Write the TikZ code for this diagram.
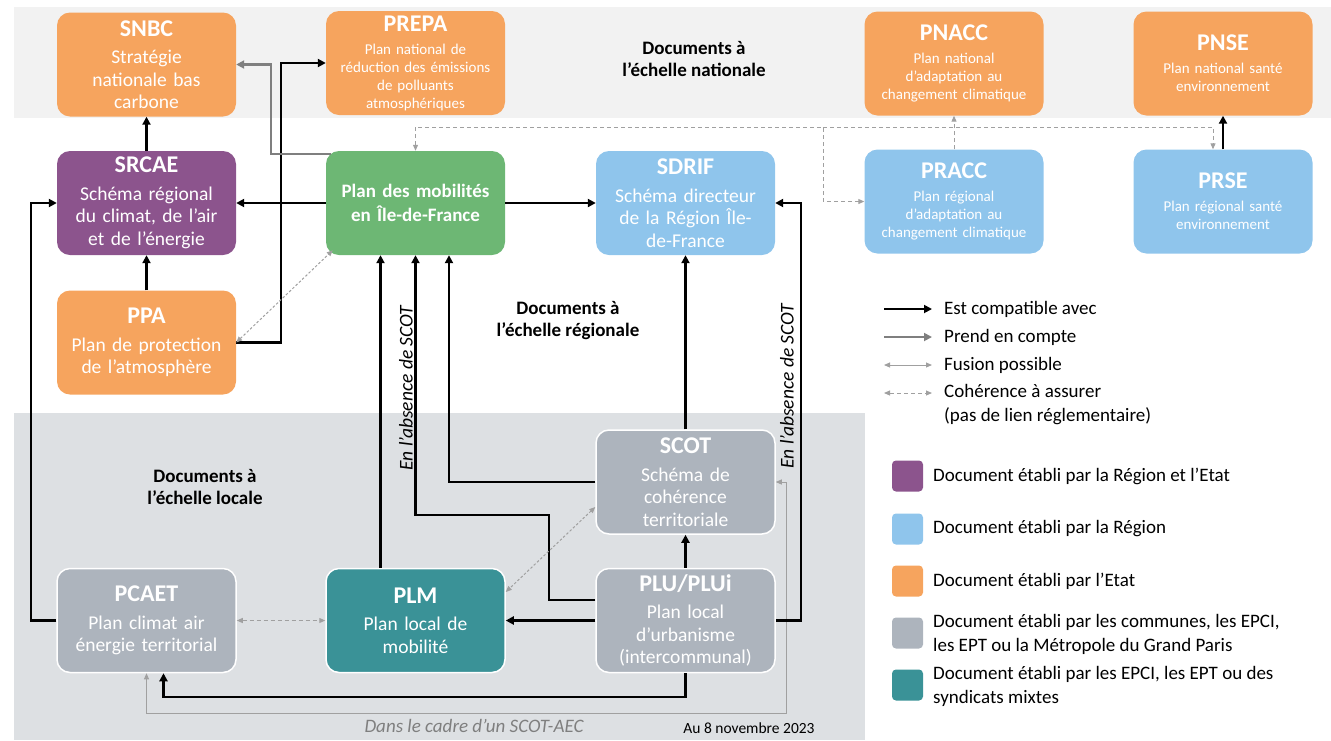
\documentclass[tikz,border=0pt]{standalone}
\usepackage{fontspec}
\setmainfont{Carlito}
\usetikzlibrary{arrows.meta}
\definecolor{etat-orange}{HTML}{F6A45E}
\definecolor{region-etat-purple}{HTML}{8C548D}
\definecolor{region-blue}{HTML}{8FC5EC}
\definecolor{idfm-green}{HTML}{6DB774}
\definecolor{local-gray}{HTML}{ADB4BD}
\definecolor{epci-teal}{HTML}{3A9297}
\definecolor{band-national}{HTML}{F2F2F2}
\definecolor{band-local}{HTML}{DDE0E3}
\definecolor{link-gray}{HTML}{7F7F7F}
\definecolor{light-gray}{HTML}{A0A0A0}

\newcommand{\sigle}[1]{{\fontsize{24}{26}\selectfont\bfseries #1}\\[5pt]}

\begin{document}
\begin{tikzpicture}[x=1pt, y=-1pt,
    doc/.style={rounded corners=13pt, minimum width=179pt, minimum height=104pt, text width=176pt,
      align=center, text=white, inner sep=0pt, font=\fontsize{19.5}{22.5}\selectfont},
    smalltext/.style={font=\fontsize{15}{18}\selectfont},
    localdoc/.style={fill=local-gray, draw=white, line width=1.5pt},
    compat/.style={line width=2.4pt, -{Triangle[length=8pt,width=8pt]}},
    prise/.style={line width=2.4pt, link-gray, -{Triangle[length=8pt,width=8pt]}},
    fusion/.style={line width=1pt, light-gray, {Triangle[length=6pt,width=5pt]}-{Triangle[length=6pt,width=5pt]}},
    coher/.style={line width=1pt, light-gray, dash pattern=on 4pt off 3pt},
    finedash/.style={dash pattern=on 2.5pt off 2pt},
    tipend/.style={-{Triangle[length=6pt,width=5pt]}},
    tipboth/.style={{Triangle[length=6pt,width=5pt]}-{Triangle[length=6pt,width=5pt]}},
    section/.style={font=\fontsize{19}{22}\selectfont\bfseries, align=center},
    legend/.style={anchor=west, inner sep=0pt, align=left, font=\fontsize{19}{24}\selectfont},
    swatch/.style={minimum size=31pt, rounded corners=4pt, inner sep=0pt},
  ]
  \useasboundingbox (0,0) rectangle (1331,740);
  \fill[band-national] (14,7) rectangle (1331,118);
  \fill[band-local] (14,413) rectangle (865,740);

  \node[doc, fill=etat-orange] (snbc) at (146.5,64.5) {\sigle{SNBC}Stratégie\\nationale bas\\carbone};
  \node[doc, smalltext, fill=etat-orange] (prepa) at (415.5,63) {\sigle{PREPA}Plan national de\\réduction des émissions\\de polluants\\atmosphériques};
  \node[doc, smalltext, fill=etat-orange] (pnacc) at (954,63.5) {\sigle{PNACC}Plan national\\d’adaptation au\\changement climatique};
  \node[doc, smalltext, fill=etat-orange] (pnse) at (1223,63.5) {\sigle{PNSE}Plan national santé\\environnement};
  \node[doc, fill=region-etat-purple] (srcae) at (146.5,203) {\sigle{SRCAE}Schéma régional\\du climat, de l’air\\et de l’énergie};
  \node[doc, fill=idfm-green, font=\fontsize{19}{24}\selectfont\bfseries] (pdm) at (415.5,203) {Plan des mobilités\\en Île-de-France};
  \node[doc, fill=region-blue] (sdrif) at (685.5,203) {\sigle{SDRIF}Schéma directeur\\de la Région Île-\\de-France};
  \node[doc, smalltext, fill=region-blue] (pracc) at (954,201.5) {\sigle{PRACC}Plan régional\\d’adaptation au\\changement climatique};
  \node[doc, smalltext, fill=region-blue] (prse) at (1223,201.5) {\sigle{PRSE}Plan régional santé\\environnement};
  \node[doc, fill=etat-orange] (ppa) at (146.5,342.5) {\sigle{PPA}Plan de protection\\de l’atmosphère};
  \node[doc, localdoc] (scot) at (685.5,482) {\sigle{SCOT}Schéma de\\cohérence\\territoriale};
  \node[doc, localdoc] (plu) at (685.5,620.5) {\sigle{PLU/PLUi}Plan local\\d’urbanisme\\(intercommunal)};
  \node[doc, localdoc] (pcaet) at (146.5,620.5) {\sigle{PCAET}Plan climat air\\énergie territorial};
  \node[doc, fill=epci-teal, draw=white, line width=1.5pt] (plm) at (415.5,620.5) {\sigle{PLM}Plan local de\\mobilité};

  \node[section] (nat) at (694,59) {Documents à\\l’échelle nationale};
  \node[section] (reg) at (568,321) {Documents à\\l’échelle régionale};
  \node[section] (loc) at (205,487) {Documents à\\l’échelle locale};

  \draw[compat] (ppa.north) -- (srcae.south);
  \draw[compat] (srcae.north) -- (snbc.south);
  \draw[compat] (pdm.west) -- (srcae.east);
  \draw[compat] (pdm.east) -- (sdrif.west);
  \draw[compat] (ppa.east) -- ++(45,0) |- (prepa.west);
  \draw[prise] ([xshift=5pt,yshift=-3pt]pdm.north west) -- ++(-60,0) |- (snbc.east);
  \draw[coher, finedash, tipboth] (ppa.east) -- ([xshift=7pt,yshift=5pt]pdm.south west);

  \coordinate (k1) at (823,127);
  \draw[coher, tipboth] (pdm.north) |- (k1) |- (pracc.west);
  \draw[coher, tipend] (k1) -| ([xshift=-10pt]prse.north);
  \draw[coher, tipend] (pracc.north) -- (pnacc.south);
  \draw[compat] (prse.north) -- (pnse.south);

  \draw[compat] (scot.north) -- (sdrif.south);
  \draw[compat] (plu.north) -- (scot.south);
  \draw[compat] (plu.west) -- (plm.east);
  \draw[compat] ([xshift=-35pt]plm.north) -- ([xshift=-35pt]pdm.south);
  \draw[compat] ([yshift=20.5pt]plu.west) -- ++(-46,0) -- ++(0,-85) -| (pdm.south);
  \draw[compat] (scot.west) -| ([xshift=33.5pt]pdm.south);
  \draw[coher, finedash, tipboth] ([yshift=-25pt]scot.west) -- ([yshift=28.5pt]plm.east);
  \draw[coher, tipboth] (pcaet.east) -- (plm.west);
  \draw[compat] (pcaet.west) -- ++(-25,0) |- (srcae.west);
  \draw[compat] (plu.south) -- ++(0,24) -| ([xshift=17pt]pcaet.south);
  \draw[fusion] (pcaet.south) -- ++(0,40) -| ([xshift=11pt]scot.east) -- (scot.east);
  \draw[compat] (plu.east) -- ++(25,0) |- (sdrif.east);

  \node[rotate=90, font=\fontsize{19.5}{22}\selectfont\itshape] (sansscot1) at (406,388) {En l’absence de SCOT};
  \node[rotate=90, font=\fontsize{19.5}{22}\selectfont\itshape] (sansscot2) at (787,386) {En l’absence de SCOT};
  \node[font=\fontsize{19}{22}\selectfont\itshape, text=link-gray] (aec) at (474,726) {Dans le cadre d’un SCOT-AEC};
  \node[font=\fontsize{15.5}{18}\selectfont] (date) at (749,728) {Au 8 novembre 2023};

  \node[legend] (lg1) at (944,309) {Est compatible avec};
  \node[legend] (lg2) at (944,337) {Prend en compte};
  \node[legend] (lg3) at (944,365) {Fusion possible};
  \node[legend] (lg4) at (944,405) {Cohérence à assurer\\(pas de lien réglementaire)};
  \draw[compat, line width=1.8pt] ([xshift=-60pt]lg1.west) -- ([xshift=-12pt]lg1.west);
  \draw[prise, line width=1.8pt] ([xshift=-60pt]lg2.west) -- ([xshift=-12pt]lg2.west);
  \draw[fusion] ([xshift=-60pt]lg3.west) -- ([xshift=-12pt]lg3.west);
  \draw[coher, tipboth] ([xshift=-60pt,yshift=12pt]lg4.west) -- ([xshift=-12pt,yshift=12pt]lg4.west);

  \node[swatch, fill=region-etat-purple] (sw1) at (907.5,476) {};
  \node[swatch, fill=region-blue] (sw2) at (907.5,529) {};
  \node[swatch, fill=etat-orange] (sw3) at (907.5,581) {};
  \node[swatch, fill=local-gray] (sw4) at (907.5,633) {};
  \node[swatch, fill=epci-teal] (sw5) at (907.5,685) {};
  \node[legend] (lt1) at (933,476) {Document établi par la Région et l’Etat};
  \node[legend] (lt2) at (933,529) {Document établi par la Région};
  \node[legend] (lt3) at (933,581) {Document établi par l’Etat};
  \node[legend] (lt4) at (933,634) {Document établi par les communes, les EPCI,\\les EPT ou la Métropole du Grand Paris};
  \node[legend] (lt5) at (933,686) {Document établi par les EPCI, les EPT ou des\\syndicats mixtes};
\end{tikzpicture}
\end{document}
